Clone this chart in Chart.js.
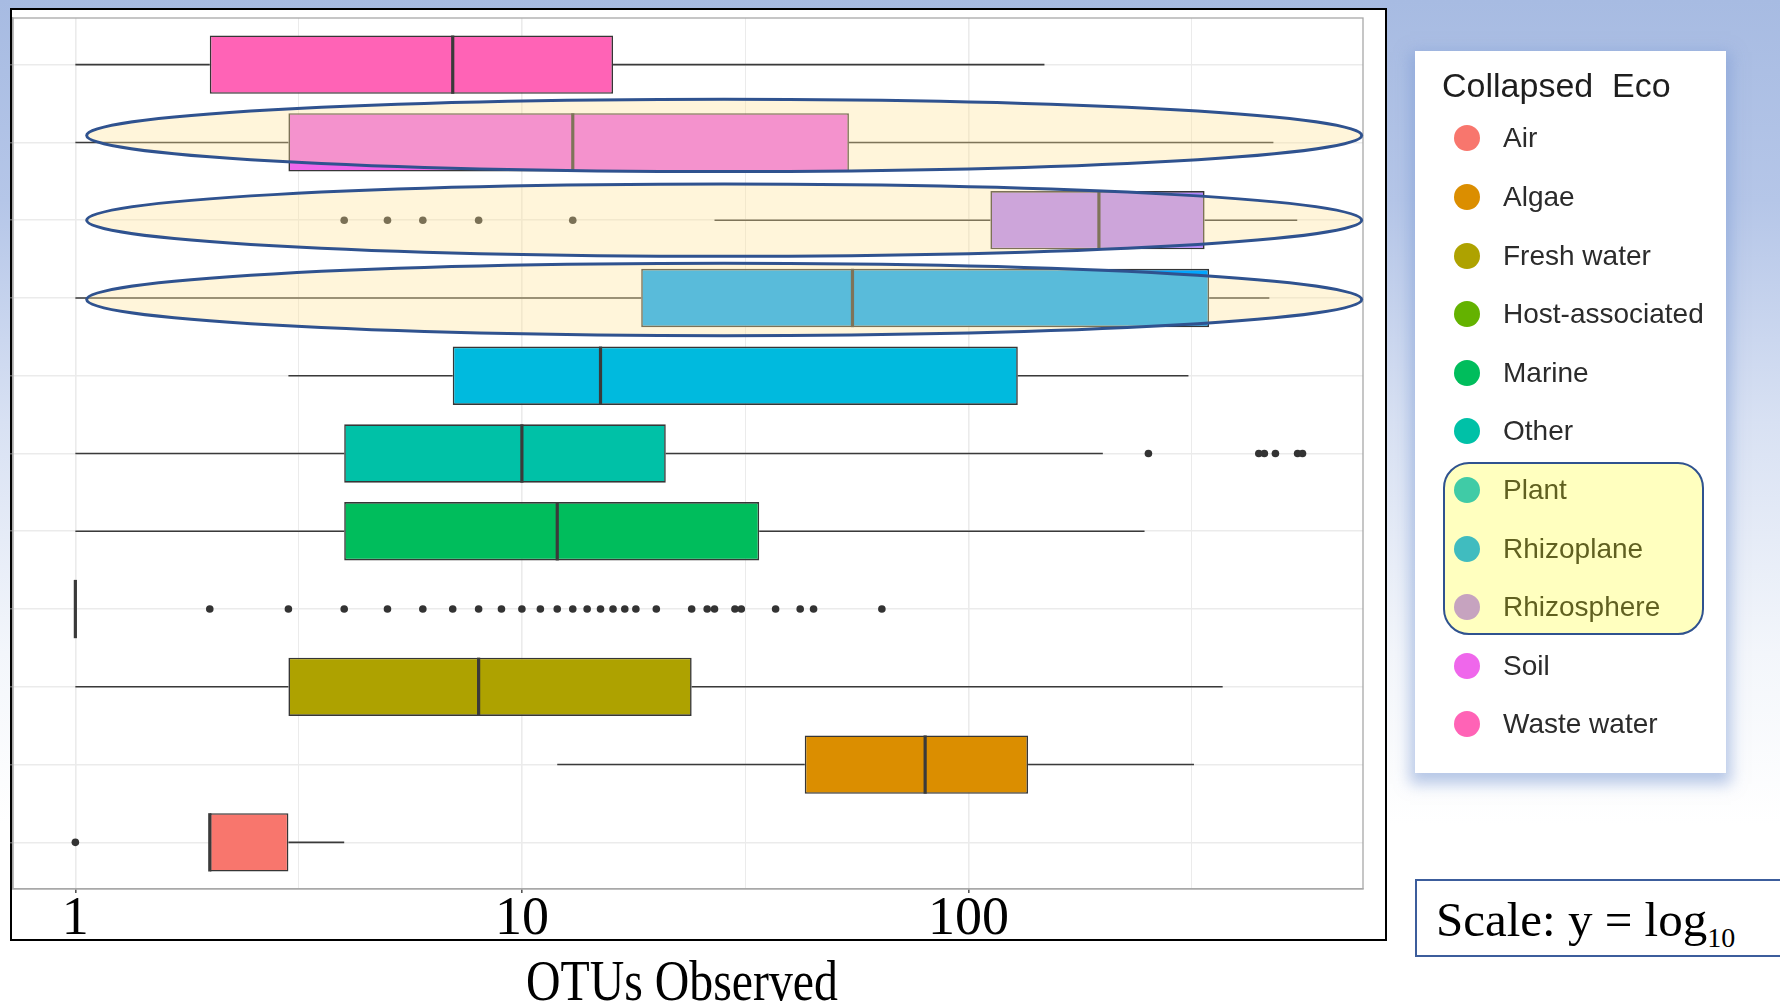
<!DOCTYPE html>
<html>
<head>
<meta charset="utf-8">
<script src="https://cdn.jsdelivr.net/npm/chart.js@4.4.1/dist/chart.umd.min.js"></script>
<style>
  html, body { margin: 0; padding: 0; }
  body {
    width: 1780px; height: 1004px; overflow: hidden; position: relative;
    background: linear-gradient(180deg, #a7bbe2 0%, #b5c6e8 20%, #d8e1f3 42%, #f3f6fb 65%, #ffffff 82%);
    font-family: 'Liberation Sans', Arial, sans-serif;
  }
  #frame { position: absolute; left: 10px; top: 8px; width: 1373px; height: 929px; border: 2px solid #000; background: #fff; }
  #chart { position: absolute; left: 0; top: 0; z-index: 1; }
  #xTitle {
    position: absolute; left: 382px; top: 952px; width: 600px; text-align: center; z-index: 2;
    font: 58px/58px 'Liberation Serif', 'Times New Roman', serif; color: #000;
    transform: scaleX(0.824); transform-origin: center;
  }
  #legend {
    position: absolute; left: 1415px; top: 51px; width: 311px; height: 722px; background: #fff; z-index: 2;
    box-shadow: 0 6px 14px 5px rgba(125, 155, 212, 0.55);
  }
  #legend .title { position: absolute; left: 27px; top: 17px; font-size: 34px; line-height: 34px; color: #1e1e1e; white-space: pre; }
  #legend .item { position: absolute; left: 0; height: 58.6px; display: flex; align-items: center; }
  #legend .dot { position: absolute; left: 39px; width: 26px; height: 26px; border-radius: 50%; }
  #legend .label { position: absolute; left: 88px; font-size: 28px; line-height: 28px; color: #2b2b2b; white-space: nowrap; }
  #legend .mark {
    position: absolute; left: 28px; top: 411px; width: 257px; height: 169px;
    border: 2.5px solid #2f528f; border-radius: 26px; background: rgba(255, 255, 0, 0.25);
  }
  #scaleBox {
    position: absolute; left: 1415px; top: 879px; width: 420px; height: 74px; z-index: 2;
    border: 2px solid #3c5d9c; background: #fff;
  }
  #scaleBox span { position: absolute; left: 19px; top: 14px; font: 49px/49px 'Liberation Serif', 'Times New Roman', serif; color: #000; white-space: nowrap; }
  #scaleBox sub { font-size: 28px; vertical-align: -11px; line-height: 0; }
</style>
</head>
<body>
<div id="frame"></div>
<canvas id="chart" width="1780" height="1004"></canvas>
<div id="xTitle">OTUs Observed</div>
<div id="legend"><div class="title">Collapsed  Eco</div></div>
<div id="scaleBox"><span>Scale: y = log<sub>10</sub></span></div>

<script>
// categories, bottom row first (legend order)
const categories = ['Air', 'Algae', 'Fresh water', 'Host-associated', 'Marine', 'Other', 'Plant', 'Rhizoplane', 'Rhizosphere', 'Soil', 'Waste water'];
const colors = ['#F8766D', '#DB8E00', '#AEA200', '#64B200', '#00BD5C', '#00C1A7', '#00BADE', '#00A6FF', '#B385FF', '#EF67EB', '#FF63B6'];

// box plot stats
const whiskerLow  = [2, 12, 1, 1, 1, 1, 3, 1, 27, 1, 1];
const q1          = [2, 43, 3, 1, 4, 4, 7, 18.5, 112, 3, 2];
const medians     = [2, 80, 8, 1, 12, 10, 15, 55, 196, 13, 7];
const q3          = [3, 136, 24, 1, 34, 21, 129, 346, 338, 54, 16];
const whiskerHigh = [4, 320, 371, 1, 248, 200, 311, 472, 545, 482, 148];
const outliers = [
  [1],
  [],
  [],
  [2, 3, 4, 5, 6, 7, 8, 9, 10, 11, 12, 13, 14, 15, 16, 17, 18, 20, 24, 26, 27, 30, 31, 37, 42, 45, 64],
  [],
  [253, 447, 460, 487, 546, 560],
  [],
  [],
  [4, 5, 6, 8, 13],
  [],
  []
];

// x axis (log10)
const xTicks = [1, 3.162, 10, 31.62, 100, 316.2];
const xLabels = ['1', '', '10', '', '100', ''];

// rows circled on the slide
const circledRows = ['Soil', 'Rhizosphere', 'Rhizoplane'];

var outlierPoints = []
outliers.forEach(function (vals, i) {
  vals.forEach(function (v) { outlierPoints.push({ x: v, y: i }) })
})

const boxExtras = {//whiskers and medians
  id: 'boxExtras',
  afterDatasetsDraw(chart) {
    const ctx = chart.ctx, x = chart.scales.x, y = chart.scales.y;
    const bars = chart.getDatasetMeta(0).data;
    ctx.save();
    ctx.strokeStyle = '#3a3a3a';
    categories.forEach(function (c, i) {
      const py = y.getPixelForValue(i);
      const h = bars[i].height;
      ctx.lineWidth = 1.6;
      ctx.beginPath();
      ctx.moveTo(x.getPixelForValue(whiskerLow[i]), py);
      ctx.lineTo(x.getPixelForValue(q1[i]), py);
      ctx.moveTo(x.getPixelForValue(q3[i]), py);
      ctx.lineTo(x.getPixelForValue(whiskerHigh[i]), py);
      ctx.stroke();
      const mx = x.getPixelForValue(medians[i]);
      ctx.lineWidth = 3.2;
      ctx.beginPath();
      ctx.moveTo(mx, py - h / 2);
      ctx.lineTo(mx, py + h / 2);
      ctx.stroke();
    });
    ctx.restore();
  }
};

const panelBorder = {
  id: 'panelBorder',
  beforeDatasetsDraw(chart) {
    const a = chart.chartArea, ctx = chart.ctx;
    ctx.save();
    ctx.strokeStyle = '#a8a8a8';
    ctx.lineWidth = 1.3;
    ctx.strokeRect(a.left, a.top, a.right - a.left, a.bottom - a.top);
    ctx.restore();
  }
};

const ellipses = {//the highlighted rows
  id: 'ellipses',
  afterDraw(chart, args, opts) {
    const ctx = chart.ctx, x = chart.scales.x, y = chart.scales.y;
    const unit = Math.abs(y.getPixelForValue(0) - y.getPixelForValue(1));
    ctx.save();
    circledRows.forEach(function (name, k) {
      const row = categories.indexOf(name);
      const x0 = x.getPixelForValue(opts.from), x1 = x.getPixelForValue(opts.to);
      const cy = y.getPixelForValue(row + opts.shift[k]);
      ctx.beginPath();
      ctx.ellipse((x0 + x1) / 2, cy, (x1 - x0) / 2, unit * opts.half, 0, 0, Math.PI * 2);
      ctx.fillStyle = 'rgba(255, 226, 149, 0.35)';
      ctx.fill();
      ctx.lineWidth = 3;
      ctx.strokeStyle = '#2f528f';
      ctx.stroke();
    });
    ctx.restore();
  }
};

new Chart(document.getElementById('chart'), {
  type: 'bar',
  data: {
    datasets: [
      {
        type: 'bar',
        indexAxis: 'y',
        data: categories.map(function (c, i) { return { y: i, x: [q1[i], q3[i]] } }),
        backgroundColor: colors,
        borderColor: '#363636',
        borderWidth: 1.6,
        borderSkipped: false,
        categoryPercentage: 1,
        barPercentage: 0.75
      },
      {
        type: 'scatter',
        data: outlierPoints,
        backgroundColor: '#333333',
        borderWidth: 0,
        pointRadius: 3.8
      }
    ]
  },
  options: {
    indexAxis: 'y',
    responsive: false,
    animation: false,
    events: [],
    layout: { padding: { left: 10, top: 18, right: 417, bottom: 55 } },
    plugins: {
      legend: { display: false },
      tooltip: { enabled: false },
      ellipses: { from: 1.06, to: 760, half: 0.465, shift: [0.09, 0, -0.02] }
    },
    scales: {
      x: {
        type: 'logarithmic',
        position: 'bottom',
        bounds: 'data',
        offset: false,
        min: 0.725,
        max: 765,
        afterBuildTicks: function (scale) { scale.ticks = xTicks.map(function (v) { return { value: v } }) },
        afterFit: function (scale) { scale.height = 60 },
        ticks: {
          autoSkip: false, maxRotation: 0, padding: -6, color: '#000',
          font: { family: "'Liberation Serif', 'Times New Roman', serif", size: 54 },
          callback: function (value, index) { return xLabels[index] }
        },
        grid: {
          offset: false,
          color: '#ebebeb',
          lineWidth: function (c) { return xLabels[c.index] ? 1.6 : 1 },
          tickLength: 4,
          tickColor: function (c) { return xLabels[c.index] ? '#555' : 'rgba(0,0,0,0)' }
        },
        border: { display: true, color: '#a8a8a8', width: 1.3 }
      },
      y: {
        type: 'linear',
        position: 'left',
        bounds: 'data',
        offset: false,
        min: -0.6,
        max: 10.6,
        afterBuildTicks: function (scale) { scale.ticks = categories.map(function (c, i) { return { value: i } }) },
        afterFit: function (scale) { scale.width = 3 },
        ticks: { display: false },
        grid: { offset: false, color: '#ebebeb', lineWidth: 1.6, tickLength: 3, tickColor: '#555' },
        border: { display: true, color: '#a8a8a8', width: 1.3 }
      }
    }
  },
  plugins: [panelBorder, boxExtras, ellipses]
});

// legend on the right
var legend = document.getElementById('legend')
categories.forEach(function (c, i) {
  var row = document.createElement('div')
  row.className = 'item'
  row.style.top = (58.2 + 58.6 * i) + 'px'
  row.innerHTML = '<div class="dot" style="background:' + colors[i] + '"></div><div class="label">' + c + '</div>'
  legend.appendChild(row)
})
var mark = document.createElement('div')
mark.className = 'mark'
legend.appendChild(mark)
</script>
</body>
</html>
